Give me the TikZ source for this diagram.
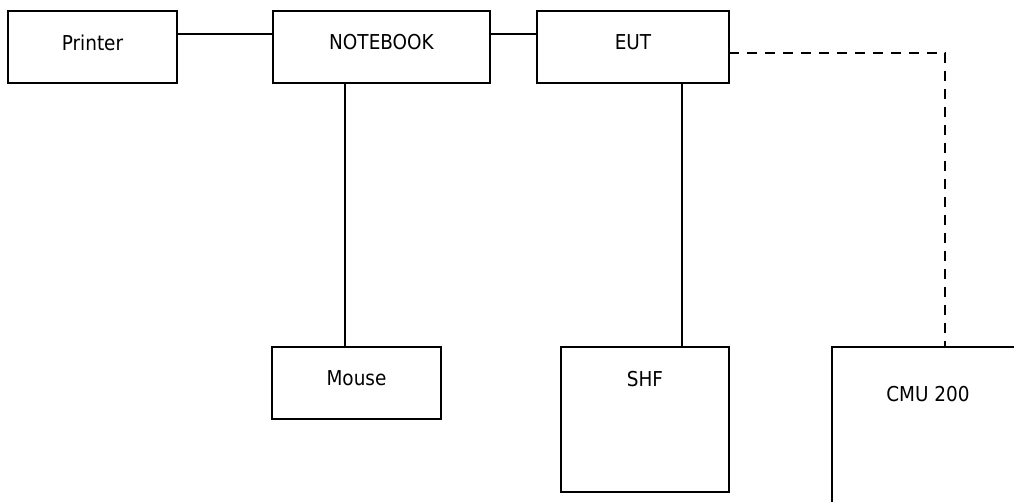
\documentclass[tikz,border=0pt]{standalone}
\usepackage{fontspec}
\setmainfont{DejaVu Sans Condensed}
\begin{document}
\begin{tikzpicture}[x=1pt,y=-1pt,
  boxnode/.style={draw,line width=1.8pt,inner sep=0pt,outer sep=0pt,rectangle},
  txt/.style={font=\fontsize{20.5}{24}\selectfont},
  wire/.style={line width=1.8pt},
  dwire/.style={line width=2.6pt,dash pattern=on 10pt off 8pt}]
\useasboundingbox (0,0) rectangle (1014,502);
\clip (0,0) rectangle (1014,502);
\node[boxnode,minimum width=169pt,minimum height=72pt] (printer) at (92.5,47) {};
\node[txt] (printert) at (92.5,42.5) {Printer};
\node[boxnode,minimum width=217pt,minimum height=72pt] (notebook) at (381.5,47) {};
\node[txt] (notebookt) at (381.5,42.5) {NOTEBOOK};
\node[boxnode,minimum width=192pt,minimum height=72pt] (eut) at (633,47) {};
\node[txt] (eutt) at (633,42.5) {EUT};
\node[boxnode,minimum width=169pt,minimum height=72pt] (mouse) at (356.5,383) {};
\node[txt] (mouset) at (356.5,378.5) {Mouse};
\node[boxnode,minimum width=168pt,minimum height=145pt] (shf) at (645,419.5) {};
\node[txt] (shft) at (645,379) {SHF};
\node[boxnode,minimum width=192pt,minimum height=213pt] (cmu) at (928,453.5) {};
\node[txt] (cmut) at (928,394) {CMU 200};
% connectors
\draw[wire] ([yshift=-23pt]printer.north east) -- ([yshift=-23pt]notebook.north west);
\draw[wire] ([yshift=-23pt]notebook.north east) -- ([yshift=-23pt]eut.north west);
\draw[wire] ([xshift=-36.5pt]notebook.south) -- ([xshift=-11.5pt]mouse.north);
\draw[wire] ([xshift=49pt]eut.south) -- ([xshift=37pt]shf.north);
\coordinate (corner) at (945,53);
\draw[dwire] ([yshift=-42pt]eut.north east) -- (corner) -- ([xshift=17pt]cmu.north);
\end{tikzpicture}
\end{document}
